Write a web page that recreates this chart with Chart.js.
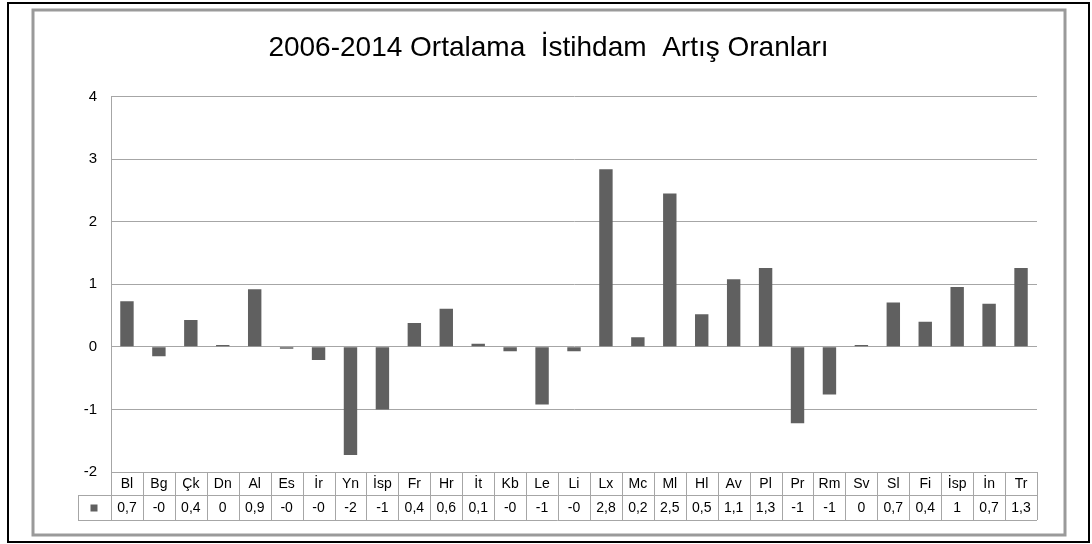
<!DOCTYPE html>
<html>
<head>
<meta charset="utf-8">
<script src="https://cdn.jsdelivr.net/npm/chart.js@4.4.1/dist/chart.umd.min.js"></script>
<style>
  body { margin: 0; background: #fff; }
</style>
</head>
<body>
<canvas id="istihdamChart" width="1092" height="544"></canvas>
<script>
// Country codes (x axis, shown in the data table)
const countries = ['Bl', 'Bg', 'Çk', 'Dn', 'Al', 'Es', 'İr', 'Yn', 'İsp', 'Fr', 'Hr', 'İt', 'Kb', 'Le',
    'Li', 'Lx', 'Mc', 'Ml', 'Hl', 'Av', 'Pl', 'Pr', 'Rm', 'Sv', 'Sl', 'Fi', 'İsp', 'İn', 'Tr'];

// Average employment growth 2006-2014 (%)
const growthRates = [0.73, -0.15, 0.43, 0.03, 0.92, -0.03, -0.21, -1.73, -1.0, 0.38, 0.61, 0.05, -0.07, -0.92,
    -0.07, 2.84, 0.155, 2.45, 0.52, 1.08, 1.26, -1.22, -0.76, 0.03, 0.71, 0.40, 0.955, 0.69, 1.26];

// Values as printed in the data table under the chart
const tableLabels = ['0,7', '-0', '0,4', '0', '0,9', '-0', '-0', '-2', '-1', '0,4', '0,6', '0,1', '-0', '-1',
    '-0', '2,8', '0,2', '2,5', '0,5', '1,1', '1,3', '-1', '-1', '0', '0,7', '0,4', '1', '0,7', '1,3'];

const yTicks = [-2, -1, 0, 1, 2, 3, 4];

const barColor = '#606060';
const lineGray = '#a6a6a6';
const fontFamily = '"Liberation Sans", Arial, sans-serif';

// Frames around the chart (black outer, gray inner) - drawn before everything else
const framePlugin = {
    id: 'frames',
    beforeDraw(chart) {
        const c = chart.ctx;
        c.save();
        c.fillStyle = '#fff';
        c.fillRect(0, 0, chart.width, chart.height);
        c.strokeStyle = '#000';
        c.lineWidth = 2;
        c.strokeRect(8, 3, 1081, 539);
        c.strokeStyle = '#9a9a9a';
        c.lineWidth = 3;
        c.strokeRect(33, 10, 1032, 525);
        c.restore();
    }
};

// Excel-like data table under the plot, columns taken from the x scale
const dataTablePlugin = {
    id: 'dataTable',
    afterDraw(chart) {
        const c = chart.ctx;
        const xs = chart.scales.x;
        const area = chart.chartArea;
        const step = (area.right - area.left) / countries.length;
        const top = area.bottom;
        const mid = top + 23;
        const bottom = mid + 25;
        const legendLeft = 78;

        c.save();
        c.strokeStyle = lineGray;
        c.lineWidth = 1;
        c.beginPath();
        // horizontal lines
        c.moveTo(area.left, top + 0.5); c.lineTo(area.right, top + 0.5);
        c.moveTo(legendLeft, mid + 0.5); c.lineTo(area.right, mid + 0.5);
        c.moveTo(legendLeft, bottom + 0.5); c.lineTo(area.right, bottom + 0.5);
        // vertical lines
        c.moveTo(legendLeft + 0.5, mid); c.lineTo(legendLeft + 0.5, bottom);
        for (let i = 0; i <= countries.length; i++) {
            const x = Math.round(xs.getPixelForValue(i) - step / 2) + 0.5;
            c.moveTo(x, top); c.lineTo(x, bottom);
        }
        c.stroke();

        c.fillStyle = '#000';
        c.font = '14px ' + fontFamily;
        c.textAlign = 'center';
        c.textBaseline = 'middle';
        countries.forEach((name, i) => {
            const x = xs.getPixelForValue(i);
            c.fillText(name, x, (top + mid) / 2 + 1);
            c.fillText(tableLabels[i], x, (mid + bottom) / 2 + 1);
        });

        // legend key
        c.fillStyle = barColor;
        c.fillRect((legendLeft + area.left) / 2 - 4, (mid + bottom) / 2 - 3, 7, 7);
        c.restore();
    }
};

const ctx = document.getElementById('istihdamChart').getContext('2d');

const chart = new Chart(ctx, {
    type: 'bar',
    data: {
        labels: countries,
        datasets: [{
            label: 'Artış Oranı',
            data: growthRates,
            backgroundColor: barColor,
            borderWidth: 0,
            barPercentage: 0.42,
            categoryPercentage: 1
        }]
    },
    options: {
        responsive: false,
        animation: false,
        layout: {
            // left/right kept symmetric so the title is centred on the canvas
            padding: { top: 10, right: 55, bottom: 72, left: 60 }
        },
        plugins: {
            legend: { display: false },
            tooltip: { enabled: false },
            title: {
                display: true,
                text: '2006-2014 Ortalama  İstihdam  Artış Oranları',
                color: '#000',
                font: { family: fontFamily, size: 28, weight: 'normal' },
                padding: { top: 21, bottom: 32 }
            }
        },
        scales: {
            x: {
                display: false
            },
            y: {
                min: -2,
                max: 4,
                afterFit(scale) { scale.width = 51; },
                afterBuildTicks(scale) { scale.ticks = yTicks.map(v => ({ value: v })); },
                ticks: {
                    color: '#000',
                    padding: 14,
                    font: { family: fontFamily, size: 15 }
                },
                grid: {
                    color: lineGray,
                    lineWidth: 1,
                    drawTicks: false
                },
                border: { display: true, color: lineGray, width: 1 }
            }
        }
    },
    plugins: [framePlugin, dataTablePlugin]
});
</script>
</body>
</html>
